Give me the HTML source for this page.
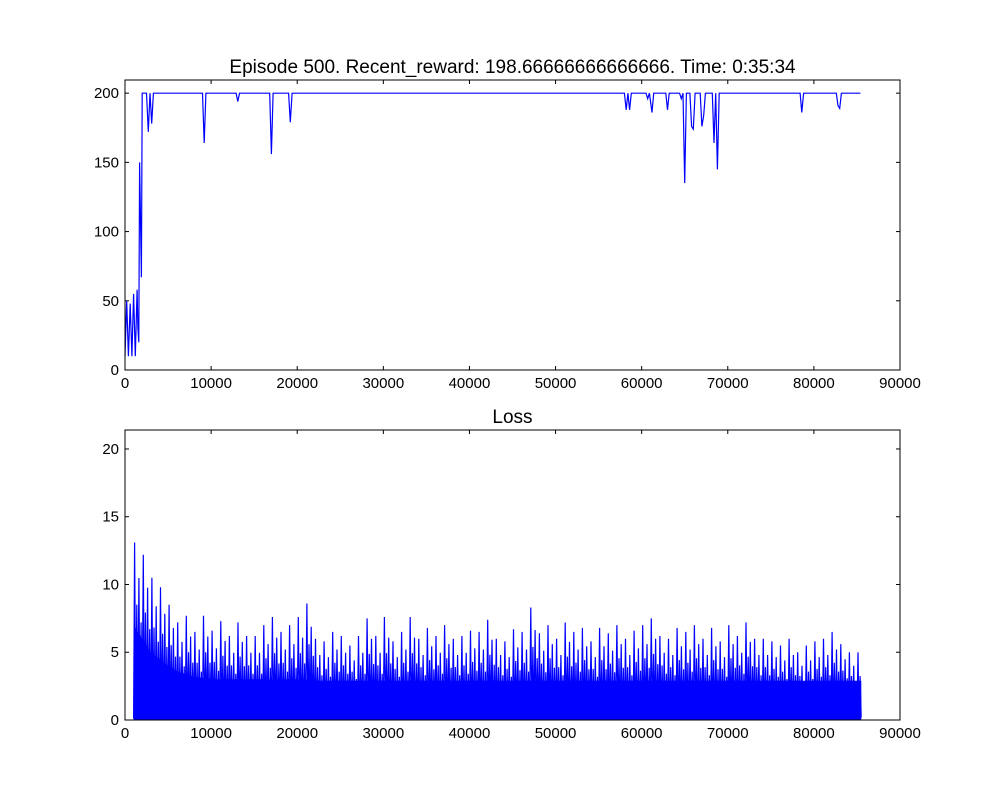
<!DOCTYPE html>
<html><head><meta charset="utf-8"><style>
body{margin:0;background:#fff}
svg text{font-family:"Liberation Sans","DejaVu Sans",sans-serif;fill:#000}
</style></head><body>
<svg id="c" width="1000" height="800" xmlns="http://www.w3.org/2000/svg">
<rect width="1000" height="800" fill="#fff"/>
</svg>
<script>
const rewardX=[0,200,400,600,800,1000,1200,1400,1500,1600,1700,1900,2000,2300,2500,2700,2900,3100,3300,9000,9200,9400,12900,13100,13300,16800,17000,17200,19000,19200,19400,58000,58200,58400,58600,58800,60500,60700,60900,61200,61400,62800,63000,63200,64400,64600,64800,65000,65200,65600,65800,66000,66200,66800,67000,67200,67400,68200,68400,68600,68800,69000,78400,78600,78800,82600,82800,83000,83200,85400];
const rewardY=[10,50,10,48,10,55,10,58,30,20,150,67,200,200,200,172,200,178,200,200,164,200,200,194,200,200,156,200,200,179,200,200,188,200,188,200,200,196,200,186,200,200,188,200,200,196,200,135,200,200,176,174,200,200,176,184,200,200,164,200,145,200,200,186,200,200,191,189,200,200];
const lossBinStart=1000, lossBinStep=1000;
const lossPeak=[13.1,12.2,10.5,9.8,8.5,7.2,7.7,6.5,7.7,6.6,7.3,6.2,7.2,6.2,6.2,7.0,7.6,6.5,7.0,7.6,8.6,6.0,5.8,6.5,6.2,5.5,6.2,7.5,6.2,7.6,5.8,6.5,7.6,6.0,6.8,6.2,7.0,6.0,6.2,6.6,6.5,7.4,6.0,5.8,6.7,6.5,8.3,6.4,7.0,6.0,7.2,6.5,6.8,5.8,6.8,6.4,7.0,6.0,6.6,7.0,7.5,6.2,6.0,6.8,6.5,7.0,6.0,6.8,5.8,7.0,6.2,7.2,6.0,6.0,5.8,5.5,6.0,5.0,5.5,5.8,6.0,6.5,5.6,5.0,5.0];
const lossDense=[7,6,5,4.5,4,3.6,3.4,3.2,3.1,3,3,3,3,3,3,3,3,3,3,3,3,2.9,2.9,2.9,2.9,2.9,2.9,2.9,2.9,2.9,2.9,2.9,2.9,2.9,2.9,2.9,2.9,2.9,2.9,2.9,2.9,2.9,2.9,2.9,2.9,2.9,2.9,2.9,2.9,2.9,2.9,2.9,2.9,2.9,2.9,2.9,2.9,2.9,2.9,2.9,2.9,2.9,2.9,2.9,2.9,2.9,2.9,2.9,2.9,2.9,2.9,2.9,2.9,2.9,2.9,2.9,2.9,2.9,2.9,2.9,2.9,2.9,2.9,2.9,2.9];
const xTicks=[0,10000,20000,30000,40000,50000,60000,70000,80000,90000];
const topYTicks=[0,50,100,150,200];
const botYTicks=[0,5,10,15,20];

const svg=document.getElementById('c');const NS='http://www.w3.org/2000/svg';
function mk(t,a,p){const e=document.createElementNS(NS,t);for(const k in a)e.setAttribute(k,a[k]);(p||svg).appendChild(e);return e;}
const L=125,R=900;
function sx(v){return L+(v/90000)*(R-L);}
function axes(top,bot,ymax,yt,title,nm){
  const sy=v=>bot-(v/ymax)*(bot-top);
  const g=mk('g',{});
  
  
  xTicks.forEach(t=>{const x=sx(t);
    mk('line',{x1:x,x2:x,y1:bot,y2:bot-4,stroke:'#000'},g);mk('line',{x1:x,x2:x,y1:top,y2:top+4,stroke:'#000'},g);
    const tx=mk('text',{x:x,y:bot+18,'text-anchor':'middle','font-size':'15'},g);tx.textContent=t;
    
    });
  yt.forEach(t=>{const y=sy(t);
    mk('line',{x1:L,x2:L+4,y1:y,y2:y,stroke:'#000'},g);mk('line',{x1:R,x2:R-4,y1:y,y2:y,stroke:'#000'},g);
    const tx=mk('text',{x:L-6,y:y+5,'text-anchor':'end','font-size':'15'},g);tx.textContent=t;
    
    });
  const ti=mk('text',{x:(L+R)/2,y:top-7,'text-anchor':'middle','font-size':'19'},g);ti.textContent=title;
  
  
  return {g,sy};
}
// top
const A=axes(80,370,209.5,topYTicks,'Episode 500. Recent_reward: 198.66666666666666. Time: 0:35:34','reward-plot');
let d=rewardX.map((x,i)=>(i?'L':'M')+sx(x).toFixed(1)+' '+A.sy(rewardY[i]).toFixed(1)).join('');
const p1=mk('path',{d:d,fill:'none',stroke:'#00f','stroke-width':1.2},A.g);


mk('rect',{x:L,y:80,width:R-L,height:290,fill:'none',stroke:'#000'},A.g);
// bottom
const B=axes(430,720,21.4,botYTicks,'Loss','loss-plot');
const lastX=lossBinStart+(lossDense.length-1)*lossBinStep+500;
let dd='M'+sx(lossBinStart)+' '+B.sy(0);
lossDense.forEach((v,i)=>{dd+='L'+sx(lossBinStart+i*lossBinStep).toFixed(1)+' '+B.sy(v).toFixed(1);});
dd+='L'+sx(lastX).toFixed(1)+' '+B.sy(lossDense[lossDense.length-1])+'L'+sx(lastX).toFixed(1)+' '+B.sy(0)+'Z';
const f=mk('path',{d:dd,fill:'#00f'},B.g);


const fr=[0.12,0.37,0.62,0.87], hm=[1,0.65,0.8,0.55];
let dl='M'+sx(lossBinStart).toFixed(1)+' '+B.sy(0.1);
lossPeak.forEach((v,i)=>{const xs=lossBinStart+i*lossBinStep;
  fr.forEach((q,j)=>{
    const x0=xs+q*lossBinStep;
    if(x0>lastX) return;
    dl+='L'+sx(x0).toFixed(1)+' '+B.sy(v*hm[j]).toFixed(1)+'L'+sx(x0+120).toFixed(1)+' '+B.sy(0.2).toFixed(1);
  });});
const p2=mk('path',{d:dl,fill:'none',stroke:'#00f','stroke-width':1.2},B.g);


mk('rect',{x:L,y:430,width:R-L,height:290,fill:'none',stroke:'#000'},B.g);
</script>
</body></html>
